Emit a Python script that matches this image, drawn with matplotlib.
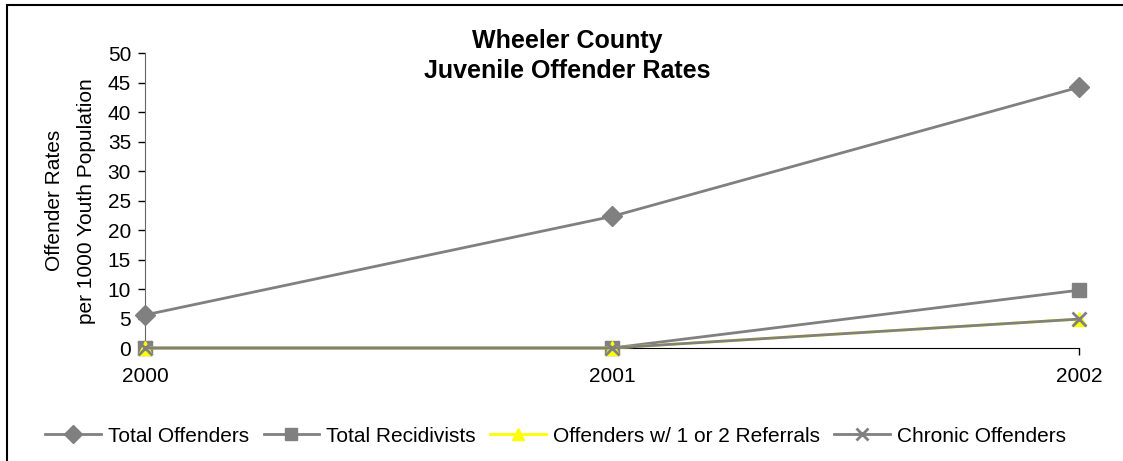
import matplotlib
matplotlib.use("Agg")
import matplotlib.pyplot as plt
from matplotlib.patches import Rectangle

plt.rcParams['font.family'] = ['Liberation Sans', 'DejaVu Sans']

years = [2000, 2001, 2002]
total_offenders = [5.6, 22.3, 44.2]
total_recidivists = [0.0, 0.0, 9.8]
referrals_1_2 = [0.0, 0.0, 4.9]
chronic_offenders = [0.0, 0.0, 4.9]
series_names = ["Total Offenders", "Total Recidivists",
                "Offenders w/ 1 or 2 Referrals", "Chronic Offenders"]
yticks = list(range(0, 55, 5))
title_lines = ["Wheeler County", "Juvenile Offender Rates"]
ylabel_lines = ["Offender Rates", "per 1000 Youth Population"]

W, H = 1123, 461
fig = plt.figure(figsize=(W / 100, H / 100), dpi=100)
ax = fig.add_axes([145 / W, 1 - 348 / H, (1079 - 145) / W, (348 - 53) / H])

gray = "#808080"
yellow = "#FFFF00"
ax.plot(years, total_offenders, color=gray, lw=2, marker="D", ms=10,
        mfc=gray, mec=gray, label=series_names[0], zorder=3)
ax.plot(years, total_recidivists, color=gray, lw=2, marker="s", ms=10,
        mfc=gray, mec=gray, label=series_names[1], zorder=3)
ax.plot(years, referrals_1_2, color=yellow, lw=2, marker="^", ms=10,
        mfc=yellow, mec=yellow, label=series_names[2], zorder=4)
ax.plot(years, chronic_offenders, color=gray, lw=2, marker="x", ms=10,
        mew=2, mfc=gray, mec=gray, label=series_names[3], zorder=5)

ax.set_xlim(2000, 2002)
ax.set_ylim(0, 50)
ax.set_xticks(years)
ax.set_xticklabels([str(y) for y in years])
ax.set_yticks(yticks)
for s in ["top", "right"]:
    ax.spines[s].set_visible(False)
ax.spines["left"].set_color("#666666")
ax.spines["bottom"].set_color("black")
ax.tick_params(axis="both", labelsize=15, direction="out", length=5, width=1)
ax.tick_params(axis="x", pad=9)
ax.tick_params(axis="y", pad=5)
for line in ax.get_lines():
    line.set_clip_on(False)

fig.text(55 / W, 1 - 200 / H, ylabel_lines[0], rotation=90,
         ha="center", va="center", fontsize=15)
fig.text(87 / W, 1 - 201 / H, ylabel_lines[1], rotation=90,
         ha="center", va="center", fontsize=15)

fig.text(567 / W, 1 - 48 / H, title_lines[0], ha="center", va="baseline",
         fontsize=18, fontweight="bold")
fig.text(567 / W, 1 - 78 / H, title_lines[1], ha="center", va="baseline",
         fontsize=18, fontweight="bold")

leg = fig.legend(loc="center left", bbox_to_anchor=(35 / W, 1 - 436 / H),
                 ncol=4, frameon=False, fontsize=15, borderpad=0,
                 handlelength=2.65, handletextpad=0.35, columnspacing=0.7,
                 markerscale=0.9)

fig.patches.append(Rectangle((7 / W, -0.1), 1.2, 1 - 5 / H + 0.1,
                             transform=fig.transFigure, fill=False,
                             edgecolor="black", lw=1.5))

fig.savefig("out.png", dpi=100)
